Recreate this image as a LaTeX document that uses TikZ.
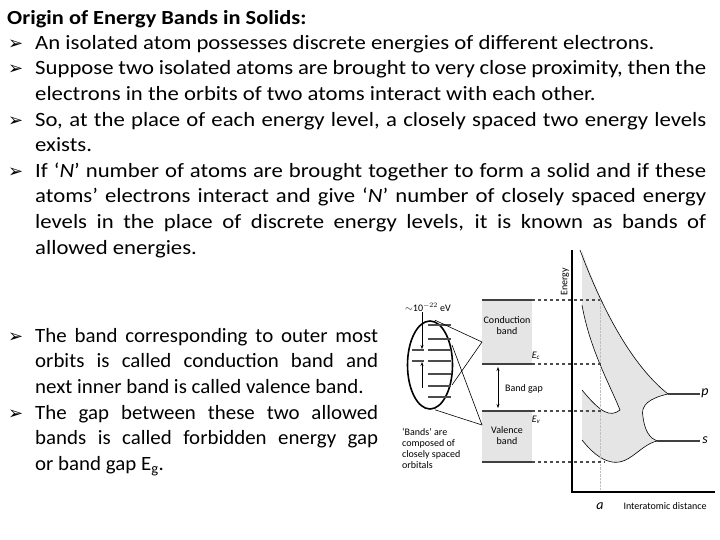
\documentclass[tikz,border=0pt]{standalone}
\usepackage{fontspec}
\setmainfont{Carlito}
\newfontfamily\bodyfont{Carlito}[FakeStretch=1.12]
\newfontfamily\lowfont{Carlito}[FakeStretch=1.03]
\newfontfamily\djv{DejaVu Sans}
\usetikzlibrary{arrows.meta,shapes.geometric}
\hyphenpenalty=10000
\exhyphenpenalty=10000
\tikzset{
 body/.style={anchor=north west,align=justify,inner sep=0pt,font=\bodyfont\fontsize{20.3}{25.6}\selectfont},
 lowbody/.style={anchor=north west,align=justify,inner sep=0pt,font=\lowfont\fontsize{20.3}{25.6}\selectfont},
 lab/.style={inner sep=0pt,font=\fontsize{10}{11}\selectfont},
 lvl/.style={line width=1.6pt,draw=black!75},
 dsh/.style={dashed,line width=1.2pt,draw=black!70},
 thinl/.style={line width=0.6pt},
}
\newcommand{\bul}{\makebox[0pt][r]{{\djv\bfseries\fontsize{18}{18}\selectfont ➢}\hspace{12pt}}}
\begin{document}
\begin{tikzpicture}[x=1pt,y=-1pt]
\useasboundingbox (0,0) rectangle (720,540);
\node[anchor=west,inner sep=0pt,font=\bodyfont\fontsize{20}{22}\selectfont\bfseries] (title) at (7,19) {Origin of Energy Bands in Solids:};
\node[body,text width=671pt] (t1) at (35,35) {%
\bul An isolated atom possesses discrete energies of different electrons.\par
\bul Suppose two isolated atoms are brought to very close proximity, then the electrons in the orbits of two atoms interact with each other.\par
\bul So, at the place of each energy level, a closely spaced two energy levels exists.\par
\bul If ‘\textit{N}’ number of atoms are brought together to form a solid and if these atoms’ electrons interact and give ‘\textit{N}’ number of closely spaced energy levels in the place of discrete energy levels, it is known as bands of\linebreak allowed energies.\par};
\node[lowbody,text width=343pt] (t2) at (35,328) {%
\bul The band corresponding to outer most orbits is called conduction band and\linebreak next inner band is called valence band.\par
\bul The gap between these two allowed bands is called forbidden energy gap\linebreak or band gap E\textsubscript{g}.\par};
% shaded regions
\fill[black!10] (582,250) .. controls (595,290) and (625,360) .. (668,394)
  .. controls (650,398) and (640,405) .. (643,417)
  .. controls (645,432) and (650,438) .. (657,441)
  .. controls (640,445) and (630,465) .. (612,462)
  .. controls (600,460) and (590,450) .. (582,440) -- cycle;
\fill[white] (582,305) .. controls (590,350) and (610,385) .. (620,410)
  .. controls (610,418) and (600,412) .. (582,390) -- cycle;
\draw[thinl] (580,250) .. controls (595,290) and (625,360) .. (668,394);
\draw[thinl] (668,394) .. controls (650,398) and (640,405) .. (643,417)
  .. controls (645,432) and (650,438) .. (657,441);
\draw[thinl] (582,440) .. controls (590,450) and (600,460) .. (612,462) .. controls (630,465) and (640,445) .. (657,441);
\draw[thinl] (582,305) .. controls (590,350) and (610,385) .. (620,410)
  .. controls (610,418) and (600,412) .. (582,390);
\draw[lvl] (668,394) -- (700,394);
\draw[lvl] (657,441) -- (700,441);
\node[lab,font=\fontsize{14}{14}\selectfont\itshape] (p) at (705,393) {p};
\node[lab,font=\fontsize{14}{14}\selectfont\itshape] (s) at (705,440) {s};
% axes
\coordinate (o) at (572,492);
\coordinate (yt) at (572,250);
\coordinate (xr) at (715,492);
\draw[line width=1.2pt] (yt) -- (o) -- (xr);
\draw[densely dotted,black!25] (600,300) -- (600,490);
\node[lab,rotate=90] (en) at (565,282) {Energy};
\node[lab,font=\fontsize{14}{14}\selectfont\itshape] (a) at (600,506) {a};
\node[lab] (id) at (665,506) {Interatomic distance};
% bands
\fill[black!10] (482,300) rectangle (532,364);
\fill[black!10] (482,411) rectangle (532,462);
\draw[lvl] (482,300) -- (532,300);
\draw[lvl] (482,364) -- (532,364);
\draw[lvl] (482,411) -- (532,411);
\draw[lvl] (482,462) -- (532,462);
\draw[dsh] (532,300) -- (600,300);
\draw[dsh] (532,364) -- (603,364);
\draw[dsh] (532,411) -- (603,411);
\draw[dsh] (532,462) -- (605,462);
\node[lab,align=center] (cb) at (507,326) {Conduction\\band};
\node[lab,align=center] (vb) at (507,436) {Valence\\band};
\node[lab,anchor=west] (bg) at (505,389) {Band gap};
\coordinate (g1) at (498,367);
\coordinate (g2) at (498,408);
\draw[{Stealth[length=4pt]}-{Stealth[length=4pt]},thinl] (g1) -- (g2);
\node[lab,font=\fontsize{10}{10}\selectfont\itshape] (ec) at (536,356) {E\textsubscript{c}};
\node[lab,font=\fontsize{10}{10}\selectfont\itshape] (ev) at (536,420) {E\textsubscript{v}};
% ellipse
\node[draw,line width=1.6pt,ellipse,minimum width=45pt,minimum height=88pt,inner sep=0pt] (el) at (430,365) {};
\foreach \yy in {325,339,350,361,374,386,397} \draw[line width=1.3pt,black!70] (428,\yy) -- (451,\yy);
\draw[line width=1.3pt,black!70] (412,350) -- (424,350);
\draw[line width=1.3pt,black!70] (412,361) -- (424,361);
\node[lab,anchor=west] (ev22) at (405,307) {$\sim$10\textsuperscript{$-22$} eV};
\coordinate (d1) at (422,312); \coordinate (d2) at (422,349);
\coordinate (u1) at (422,388); \coordinate (u2) at (422,362);
\draw[-{Stealth[length=4pt]},thinl] (d1) -- (d2);
\draw[-{Stealth[length=4pt]},thinl] (u1) -- (u2);
\draw[thinl] (el.north) ++(5,0) -- (482,342);
\draw[thinl] (el.south) ++(5,0) -- (482,425);
\draw[thinl] (452,385) -- (482,342);
\draw[thinl] (452,345) -- (482,425);
\node[lab,anchor=north west,align=left] (bands) at (402,428) {‘Bands’ are\\composed of\\closely spaced\\orbitals};
\end{tikzpicture}
\end{document}
